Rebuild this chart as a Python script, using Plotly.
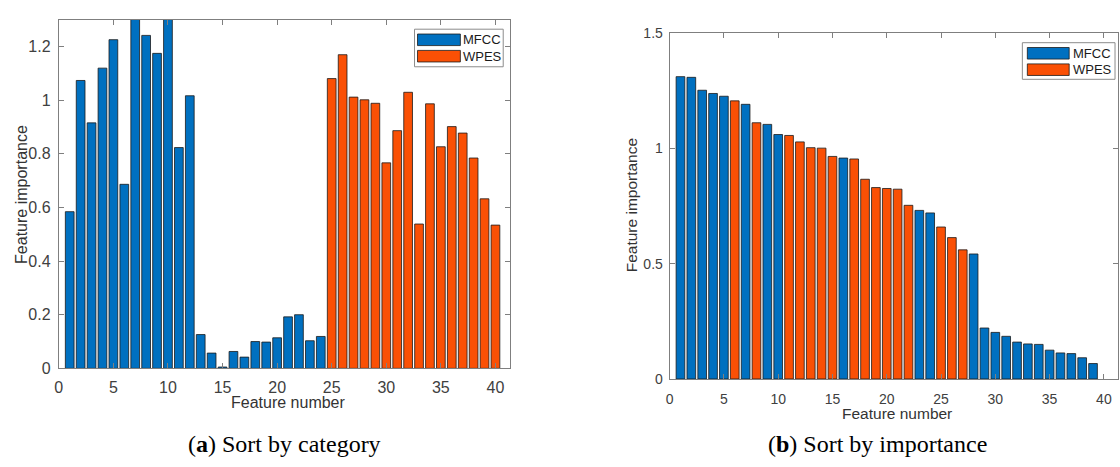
import plotly.graph_objects as go

# ---------------- data ----------------
series_names = ["MFCC", "WPES"]
colors = {"MFCC": "#0070C0", "WPES": "#FA5005"}

# (a) sort by category: features 1-24 MFCC, 25-40 WPES
left_mfcc = [0.584, 1.073, 0.915, 1.119, 1.225, 0.686, 1.31, 1.241, 1.174, 1.31,
             0.823, 1.016, 0.126, 0.057, 0.005, 0.063, 0.042, 0.100, 0.098, 0.114,
             0.192, 0.200, 0.103, 0.119]
left_wpes = [1.080, 1.169, 1.011, 1.001, 0.988, 0.766, 0.886, 1.029, 0.538, 0.986,
             0.826, 0.901, 0.877, 0.784, 0.632, 0.534]

# (b) sort by importance
right_values = [1.311, 1.308, 1.252, 1.238, 1.226, 1.206, 1.191, 1.111, 1.104, 1.060,
                1.056, 1.028, 1.003, 1.001, 0.965, 0.958, 0.954, 0.866, 0.830, 0.826,
                0.823, 0.753, 0.731, 0.720, 0.659, 0.613, 0.560, 0.542, 0.221, 0.202,
                0.185, 0.160, 0.152, 0.150, 0.125, 0.113, 0.110, 0.092, 0.067]
right_groups = ["MFCC"] * 5 + ["WPES", "MFCC", "WPES", "MFCC", "MFCC"] + \
               ["WPES"] * 5 + ["MFCC"] + ["WPES"] * 6 + ["MFCC", "MFCC"] + \
               ["WPES"] * 3 + ["MFCC"] * 12

x_ticks = [0, 5, 10, 15, 20, 25, 30, 35, 40]
left_y_ticks = [0, 0.2, 0.4, 0.6, 0.8, 1.0, 1.2]
right_y_ticks = [0, 0.5, 1.0, 1.5]

# ---------------- figure ----------------
W, H = 1120, 467
fig = go.Figure()

left_x_mfcc = list(range(1, len(left_mfcc) + 1))
left_x_wpes = list(range(len(left_mfcc) + 1, len(left_mfcc) + len(left_wpes) + 1))

bar_line = dict(color="#1a1a1a", width=0.8)

fig.add_trace(go.Bar(x=left_x_mfcc, y=left_mfcc, name="MFCC", width=0.8,
                     marker=dict(color=colors["MFCC"], line=bar_line),
                     xaxis="x", yaxis="y", showlegend=False))
fig.add_trace(go.Bar(x=left_x_wpes, y=left_wpes, name="WPES", width=0.8,
                     marker=dict(color=colors["WPES"], line=bar_line),
                     xaxis="x", yaxis="y", showlegend=False))

for s in series_names:
    xs = [i + 1 for i, g in enumerate(right_groups) if g == s]
    ys = [v for v, g in zip(right_values, right_groups) if g == s]
    fig.add_trace(go.Bar(x=xs, y=ys, name=s, width=0.8,
                         marker=dict(color=colors[s], line=bar_line),
                         xaxis="x2", yaxis="y2", showlegend=False))

def px(x):
    return x / W

def py(y):
    return 1 - y / H

FONT = "Liberation Sans, Arial, sans-serif"
left_tick_font = dict(family=FONT, size=16, color="#404040")
right_tick_font = dict(family=FONT, size=14, color="#404040")
axis_common = dict(showline=True, linecolor="#7f7f7f", linewidth=1, mirror="ticks",
                   ticks="inside", ticklen=5, tickcolor="#7f7f7f", showgrid=False,
                   zeroline=False)

fig.update_layout(
    width=W, height=H, margin=dict(l=0, r=0, t=0, b=0),
    paper_bgcolor="white", plot_bgcolor="white",
    barmode="overlay",
    xaxis=dict(domain=[px(55), px(508)], range=[0, 41.35], tickvals=x_ticks,
               anchor="y", tickfont=left_tick_font, ticklabelstandoff=4, **axis_common),
    yaxis=dict(domain=[py(374), py(12)], range=[0, 1.3], tickvals=left_y_ticks,
               anchor="x", tickfont=left_tick_font, ticklabelstandoff=4, **axis_common),
    xaxis2=dict(domain=[px(668), px(1118)], range=[0, 41.3], tickvals=x_ticks,
                anchor="y2", tickfont=right_tick_font, ticklabelstandoff=7, **axis_common),
    yaxis2=dict(domain=[py(385), py(26)], range=[0, 1.5], tickvals=right_y_ticks,
                anchor="x2", tickfont=right_tick_font, ticklabelstandoff=3, **axis_common),
)

label_font = dict(family=FONT, size=16, color="#333333")
label_font_r = dict(family=FONT, size=15.5, color="#333333")
ann = []

def add_text(x, y, text, font, angle=0):
    ann.append(dict(x=px(x), y=py(y), text=text, showarrow=False, xref="paper",
                    yref="paper", xanchor="center", yanchor="middle",
                    textangle=angle, font=font))

add_text(286, 409, "Feature number", label_font)
add_text(18, 193, "Feature importance", label_font, -90)
add_text(896, 421, "Feature number", label_font_r)
add_text(630, 205, "Feature importance", label_font_r, -90)

cap_font = dict(family="Liberation Serif, Times New Roman, serif", size=24, color="#000000")
add_text(282, 452, "(<b>a</b>) Sort by category", cap_font)
add_text(877, 452, "(<b>b</b>) Sort by importance", cap_font)

shapes = []
leg_font = dict(family=FONT, size=13, color="#1a1a1a")

def add_legend(box, sw_x, rows, text_x):
    x0, y0, x1, y1 = box
    shapes.append(dict(type="rect", xref="paper", yref="paper",
                       x0=px(x0), x1=px(x1), y0=py(y1), y1=py(y0),
                       line=dict(color="#8c8c8c", width=1), fillcolor="white", layer="above"))
    for name, (ry0, ry1) in zip(series_names, rows):
        shapes.append(dict(type="rect", xref="paper", yref="paper",
                           x0=px(sw_x[0]), x1=px(sw_x[1]), y0=py(ry1), y1=py(ry0),
                           line=dict(color="#1a1a1a", width=0.8),
                           fillcolor=colors[name], layer="above"))
        ann.append(dict(x=px(text_x), y=py((ry0 + ry1) / 2), text=name, showarrow=False,
                        xref="paper", yref="paper", xanchor="left", yanchor="middle",
                        font=leg_font))

add_legend((412, 22, 501, 61), (415, 458), [(27, 39), (44, 56)], 459)
add_legend((1022, 36, 1115, 74), (1027, 1069), [(41, 53), (58, 70)], 1071)

fig.update_layout(annotations=ann, shapes=shapes)

fig.write_html("out.html")
